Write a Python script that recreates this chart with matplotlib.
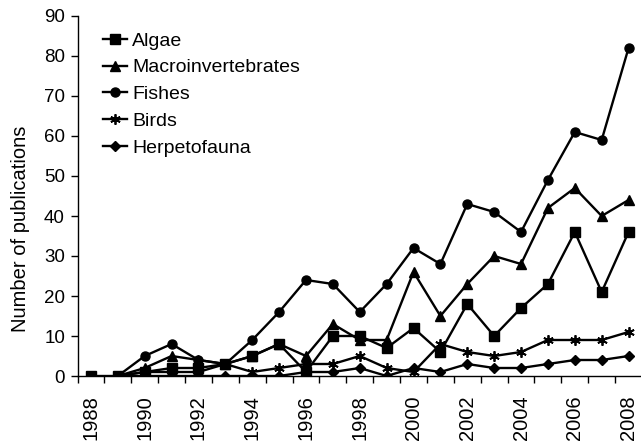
import numpy as np
import matplotlib
matplotlib.use("Agg")
import matplotlib.pyplot as plt

plt.rcParams['font.family'] = ['Liberation Sans', 'DejaVu Sans']

years = list(range(1988, 2009))
nan = np.nan
# values, one per year 1988..2008
algae = [0, 0, 1, 2, 2, 3, 5, 8, 1, 10, 10, 7, 12, 6, 18, 10, 17, 23, 36, 21, 36]
macro = [nan, 0, 2, 5, 4, 3, 5, 8, 5, 13, 9, 9, 26, 15, 23, 30, 28, 42, 47, 40, 44]
fishes = [nan, 0, 5, 8, 4, 3, 9, 16, 24, 23, 16, 23, 32, 28, 43, 41, 36, 49, 61, 59, 82]
birds = [nan, 0, 1, 1, 1, 3, 1, 2, 3, 3, 5, 2, 1, 8, 6, 5, 6, 9, 9, 9, 11]
herp = [nan, 0, 0, 0, 0, 0, 0, 0, 1, 1, 2, 0, 2, 1, 3, 2, 2, 3, 4, 4, 5]

series = [
    ("Algae", algae, "s", 7),
    ("Macroinvertebrates", macro, "^", 7),
    ("Fishes", fishes, "o", 6.5),
    ("Birds", birds, (6, 2, 0), 7.5),
    ("Herpetofauna", herp, "D", 5),
]

fig = plt.figure(figsize=(6.41, 4.44), dpi=100)
ax = fig.add_axes([77.5 / 641, 68 / 444, 564.5 / 641, 360 / 444])

x = np.arange(len(years))
for name, vals, mk, ms in series:
    ax.plot(x, vals, color="black", lw=1.7, marker=mk, markersize=ms,
            markeredgewidth=1.0 if mk != (6, 2, 0) else 1.3,
            markerfacecolor="black", markeredgecolor="black", label=name)

ax.set_xlim(-0.5, len(years) - 0.5)
ax.set_ylim(0, 90)
ax.set_yticks(range(0, 91, 10))

# category labels in the middle, tick marks between categories
ax.set_xticks(x[::2])
ax.set_xticklabels([str(y) for y in years[::2]], rotation=90)
ax.set_xticks(np.arange(-0.5, len(years)), minor=True)
ax.tick_params(axis="x", which="major", length=0, pad=14, labelsize=14.5)
ax.tick_params(axis="x", which="minor", length=5, width=1, direction="out")
ax.tick_params(axis="y", length=5, width=1, pad=4, labelsize=13.5)

for s in ["top", "right"]:
    ax.spines[s].set_visible(False)
ax.spines["left"].set_linewidth(1)
ax.spines["bottom"].set_linewidth(1)

ax.set_ylabel("Number of publications", fontsize=14.5)
ax.yaxis.set_label_coords(-0.084, 0.408)

leg = ax.legend(loc="upper left", bbox_to_anchor=(103 / 641, 1 - 32 / 444),
                bbox_transform=fig.transFigure, frameon=False, fontsize=14,
                handlelength=1.25, handletextpad=0.25, labelspacing=0.47,
                borderpad=0, borderaxespad=0)

fig.savefig("out.png", dpi=100)
